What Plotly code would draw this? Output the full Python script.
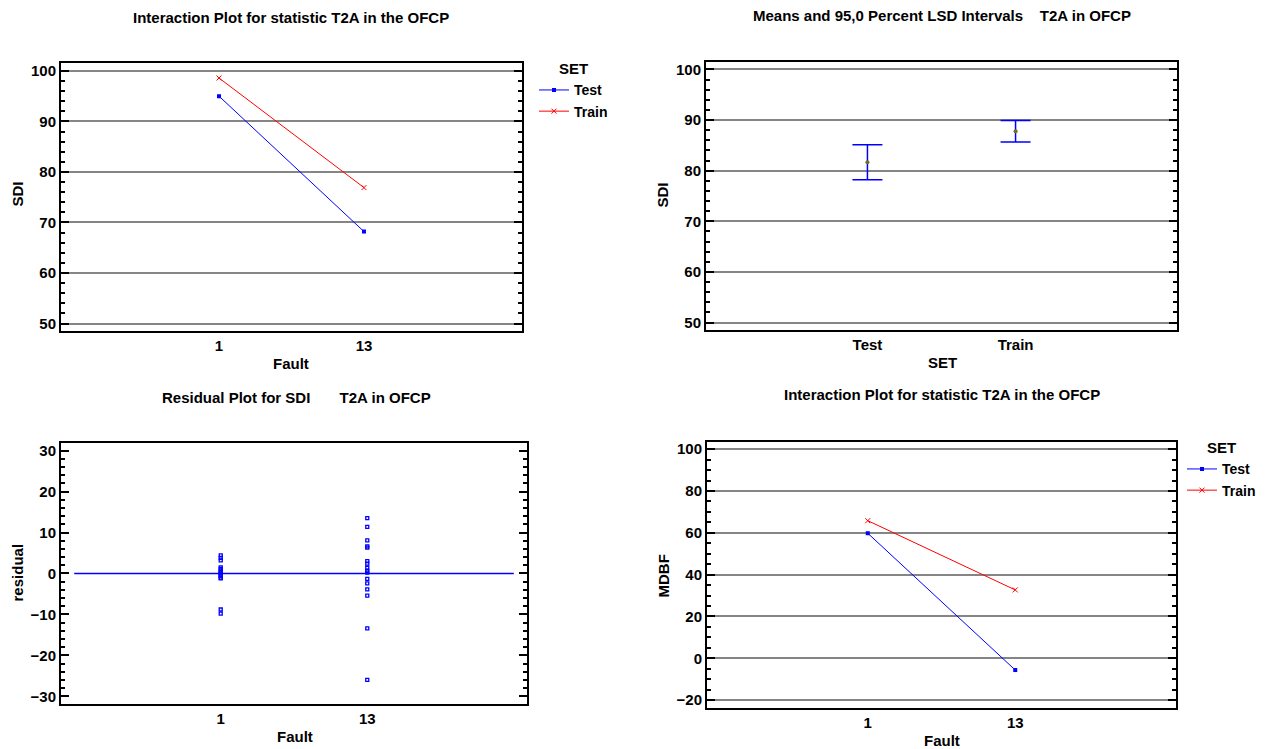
import plotly.graph_objects as go

# ---- data ----
faults = ["1", "13"]
sets = ["Test", "Train"]

# Interaction plot: SDI by fault, one line per SET
sdi_test = [95.0, 68.2]
sdi_train = [98.6, 76.9]

# Means and 95,0 percent LSD intervals of SDI by SET
sdi_means = [81.65, 87.8]
sdi_upper = [85.1, 89.9]
sdi_lower = [78.2, 85.65]

# Residuals of SDI by fault
resid_fault1 = [4.4, 3.8, 3.2, 1.5, 1.1, 0.7, 0.3, 0.0, -0.3, -0.6, -1.0, -1.2, -8.8, -9.8]
resid_fault13 = [13.5, 11.4, 8.1, 6.6, 6.3, 3.0, 2.4, 1.4, 0.6, 0.2, -1.3, -2.4,
                 -3.9, -5.4, -13.4, -26.0]

# Interaction plot: MDBF by fault, one line per SET
mdbf_test = [59.8, -5.6]
mdbf_train = [65.8, 32.7]

# ---- styling ----
W, H = 1272, 749
FONT = "Liberation Sans, Arial, sans-serif"
FS = 15
LEG_FS = 14
BLUE = "#0000ff"
RED = "#ff0000"
GRID = "#858585"


def px_x(x):
    return x / W


def px_y(y):
    return 1 - y / H


fig = go.Figure()

# Top-left: interaction plot for SDI
fig.add_trace(go.Scatter(
    x=faults, y=sdi_test, name=sets[0], mode="lines+markers",
    line=dict(color=BLUE, width=1), marker=dict(symbol="square", size=4, color=BLUE),
    xaxis="x", yaxis="y", legend="legend"))
fig.add_trace(go.Scatter(
    x=faults, y=sdi_train, name=sets[1], mode="lines+markers",
    line=dict(color=RED, width=1),
    marker=dict(symbol="x-thin", size=5, line=dict(color=RED, width=1), color=RED),
    xaxis="x", yaxis="y", legend="legend"))

# Top-right: means with LSD intervals
fig.add_trace(go.Scatter(
    x=sets, y=sdi_means, mode="markers", showlegend=False,
    marker=dict(symbol="circle", size=4, color="#6f6f20"),
    error_y=dict(type="data", symmetric=False,
                 array=[u - m for u, m in zip(sdi_upper, sdi_means)],
                 arrayminus=[m - l for m, l in zip(sdi_means, sdi_lower)],
                 color=BLUE, thickness=1.5, width=15),
    xaxis="x2", yaxis="y2"))

# Bottom-left: residual plot
fig.add_trace(go.Scatter(
    x=[faults[0]] * len(resid_fault1) + [faults[1]] * len(resid_fault13),
    y=resid_fault1 + resid_fault13, mode="markers", showlegend=False,
    marker=dict(symbol="square-open", size=3, color=BLUE, line=dict(width=1.3, color=BLUE)),
    xaxis="x3", yaxis="y3"))

# Bottom-right: interaction plot for MDBF
fig.add_trace(go.Scatter(
    x=faults, y=mdbf_test, name=sets[0], mode="lines+markers",
    line=dict(color=BLUE, width=1), marker=dict(symbol="square", size=4, color=BLUE),
    xaxis="x4", yaxis="y4", legend="legend2"))
fig.add_trace(go.Scatter(
    x=faults, y=mdbf_train, name=sets[1], mode="lines+markers",
    line=dict(color=RED, width=1),
    marker=dict(symbol="x-thin", size=5, line=dict(color=RED, width=1), color=RED),
    xaxis="x4", yaxis="y4", legend="legend2"))

# zero reference line on the residual plot
fig.add_shape(type="line", xref="x3", yref="y3", x0=-1, x1=2, y0=0, y1=0,
              line=dict(color=BLUE, width=1.5), layer="below")

tickfont = dict(family=FONT, size=FS, color="black", weight="bold")


def xaxis(domain, anchor):
    return dict(domain=domain, anchor=anchor, type="category", range=[-1.09, 2.09],
                showline=True, linecolor="black", linewidth=2, mirror=True,
                ticks="", showgrid=False, zeroline=False, tickfont=tickfont,
                fixedrange=True)


def yaxis(domain, anchor, rng, dtick, minor_dtick, grid=True):
    return dict(domain=domain, anchor=anchor, range=rng, tick0=0, dtick=dtick,
                showline=True, linecolor="black", linewidth=2, mirror="allticks",
                ticks="inside", ticklen=8, tickwidth=2, tickcolor="black",
                minor=dict(dtick=minor_dtick, tick0=0, ticks="inside", ticklen=4,
                           tickwidth=2, tickcolor="black", showgrid=False),
                showgrid=grid, gridcolor=GRID, gridwidth=1.5, zeroline=False,
                tickfont=tickfont, fixedrange=True)


def legend(x, y):
    return dict(x=px_x(x), y=px_y(y), xanchor="left", yanchor="top",
                bgcolor="rgba(0,0,0,0)", itemwidth=30, tracegroupgap=0,
                title=dict(text="SET", side="top center",
                           font=dict(family=FONT, size=FS, weight="bold")),
                font=dict(family=FONT, size=LEG_FS, color="black", weight="bold"))


fig.update_layout(
    width=W, height=H, margin=dict(l=0, r=0, t=0, b=0),
    paper_bgcolor="white", plot_bgcolor="white",
    font=dict(family=FONT, size=FS, color="black", weight="bold"),
    xaxis=xaxis([px_x(61), px_x(522)], "y"),
    yaxis=yaxis([px_y(331), px_y(62)], "x", [48.5, 101.6], 10, 2),
    xaxis2=xaxis([px_x(706), px_x(1177)], "y2"),
    yaxis2=yaxis([px_y(330), px_y(61)], "x2", [48.5, 101.5], 10, 2),
    xaxis3=xaxis([px_x(61), px_x(527)], "y3"),
    yaxis3=yaxis([px_y(705), px_y(443)], "x3", [-31.9, 31.9], 10, 2, grid=False),
    xaxis4=xaxis([px_x(707), px_x(1176)], "y4"),
    yaxis4=yaxis([px_y(709), px_y(442)], "x4", [-23.8, 103.5], 20, 5),
    legend=legend(534, 54),
    legend2=legend(1182, 434),
)

# panel titles and axis titles
texts = [
    ("Interaction Plot for statistic T2A in the OFCP", 291, 17, 0),
    ("Means and 95,0 Percent LSD Intervals\u00a0\u00a0\u00a0\u00a0T2A in OFCP", 942, 15, 0),
    ("Residual Plot for SDI\u00a0\u00a0\u00a0\u00a0\u00a0\u00a0\u00a0T2A in OFCP", 296, 398, 0),
    ("Interaction Plot for statistic T2A in the OFCP", 942, 395, 0),
    ("Fault", 291, 363, 0),
    ("SDI", 17, 194, -90),
    ("SET", 942, 362, 0),
    ("SDI", 662, 195, -90),
    ("Fault", 295, 737, 0),
    ("residual", 17, 573, -90),
    ("Fault", 942, 741, 0),
    ("MDBF", 663, 577, -90),
]
for text, x, y, ang in texts:
    fig.add_annotation(text=text, x=px_x(x), y=px_y(y), xref="paper", yref="paper",
                       xanchor="center", yanchor="middle", showarrow=False, textangle=ang,
                       font=dict(family=FONT, size=FS, color="black", weight="bold"))

fig.write_html("out.html", config=dict(displayModeBar=False))
